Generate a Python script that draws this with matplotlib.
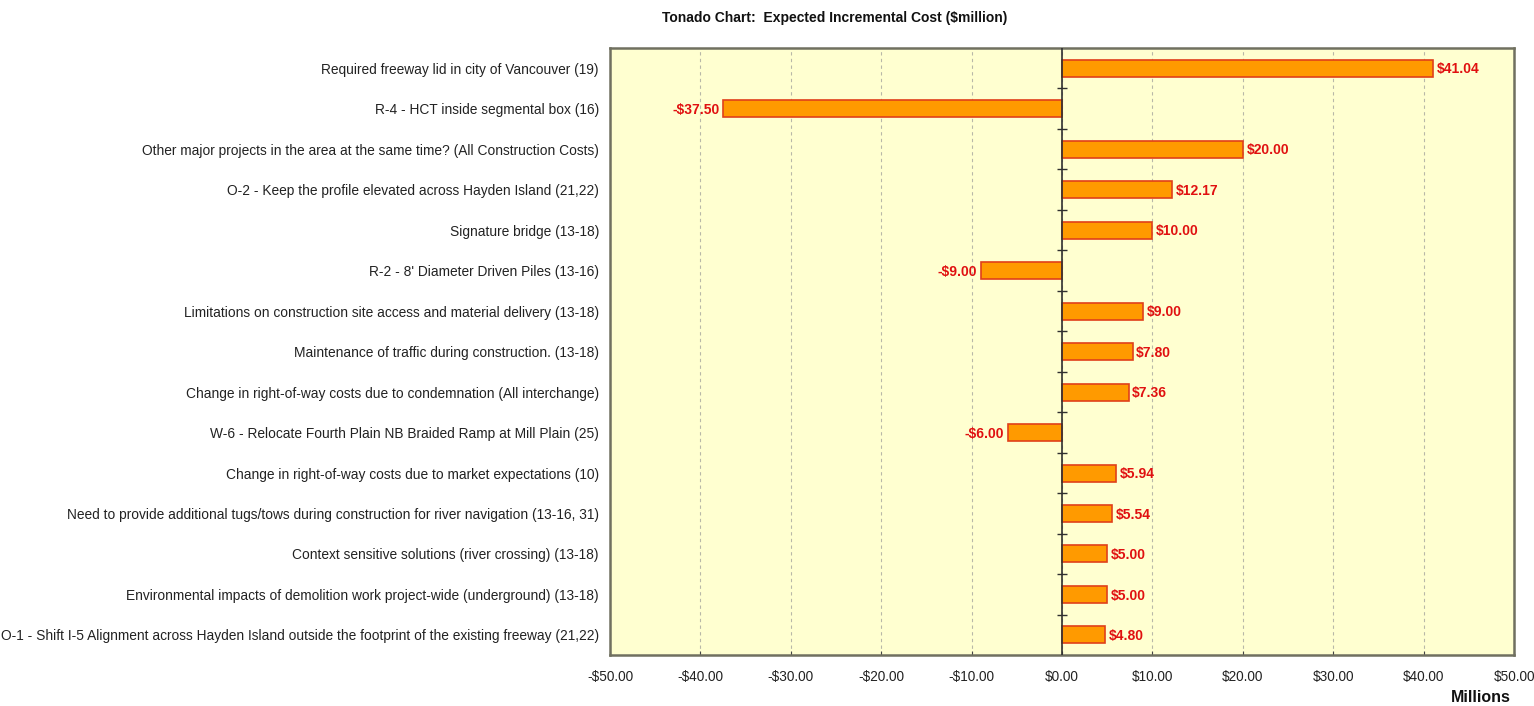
import matplotlib
matplotlib.use("Agg")
import matplotlib.pyplot as plt
import numpy as np

plt.rcParams['font.family'] = ['Liberation Sans', 'DejaVu Sans']

categories = [
    "Required freeway lid in city of Vancouver (19)",
    "R-4 - HCT inside segmental box (16)",
    "Other major projects in the area at the same time? (All Construction Costs)",
    "O-2 - Keep the profile elevated across Hayden Island (21,22)",
    "Signature bridge (13-18)",
    "R-2 - 8' Diameter Driven Piles (13-16)",
    "Limitations on construction site access and material delivery (13-18)",
    "Maintenance of traffic during construction. (13-18)",
    "Change in right-of-way costs due to condemnation (All interchange)",
    "W-6 - Relocate Fourth Plain NB Braided Ramp at Mill Plain (25)",
    "Change in right-of-way costs due to market expectations (10)",
    "Need to provide additional tugs/tows during construction for river navigation (13-16, 31)",
    "Context sensitive solutions (river crossing) (13-18)",
    "Environmental impacts of demolition work project-wide (underground) (13-18)",
    "O-1 - Shift I-5 Alignment across Hayden Island outside the footprint of the existing freeway (21,22)",
]
values = [41.04, -37.50, 20.00, 12.17, 10.00, -9.00, 9.00, 7.80, 7.36, -6.00,
          5.94, 5.54, 5.00, 5.00, 4.80]
xticks = [-50, -40, -30, -20, -10, 0, 10, 20, 30, 40, 50]

def money(v):
    return ("-$%.2f" % abs(v)) if v < 0 else ("$%.2f" % v)

fig = plt.figure(figsize=(15.34, 7.06), dpi=100)
ax = fig.add_axes([0.3977, 0.072, 0.5893, 0.86])
ax.set_facecolor('#FFFFD0')

n = len(categories)
y = np.arange(n)
ax.barh(y, values, height=0.42, color='#FF9A00', edgecolor='#E0401A', linewidth=1.2, zorder=3)

for yi, v in zip(y, values):
    if v >= 0:
        ax.text(v + 0.4, yi + 0.03, money(v), va='center', ha='left', color='#E01010',
                fontsize=10, fontweight='bold', zorder=4)
    else:
        ax.text(v - 0.4, yi + 0.03, money(v), va='center', ha='right', color='#E01010',
                fontsize=10, fontweight='bold', zorder=4)

ax.set_xlim(-50, 50)
ax.set_ylim(n - 0.5, -0.5)
ax.set_yticks(y)
ax.set_yticklabels(categories, fontsize=9.9, color='#222222')
ax.tick_params(axis='y', length=0, pad=8)
ax.set_xticks(xticks)
ax.set_xticklabels([money(t) for t in xticks], fontsize=9.8, color='#222222')
ax.tick_params(axis='x', direction='in', length=3, pad=11, color='#444444')

ax.grid(axis='x', linestyle=(0, (3, 3)), color='#B8B8A8', linewidth=0.8, zorder=1)
ax.axvline(0, color='#303030', linewidth=1.2, zorder=5)
# small ticks on the zero line at row boundaries
bounds = np.arange(n - 1) + 0.5
ax.plot(np.zeros_like(bounds), bounds, linestyle='none', marker='_', markersize=7,
        color='#303030', markeredgewidth=1.0, zorder=6, clip_on=False)

for s in ax.spines.values():
    s.set_color('#707060')
    s.set_linewidth(1.8)

fig.text(0.544, 0.975, "Tonado Chart:  Expected Incremental Cost ($million)",
         ha='center', va='center', fontsize=10, fontweight='bold', color='#111111')
fig.text(0.985, 0.002, "Millions", ha='right', va='bottom', fontsize=11.5,
         fontweight='bold', color='#111111')

fig.savefig("out.png", dpi=100)
